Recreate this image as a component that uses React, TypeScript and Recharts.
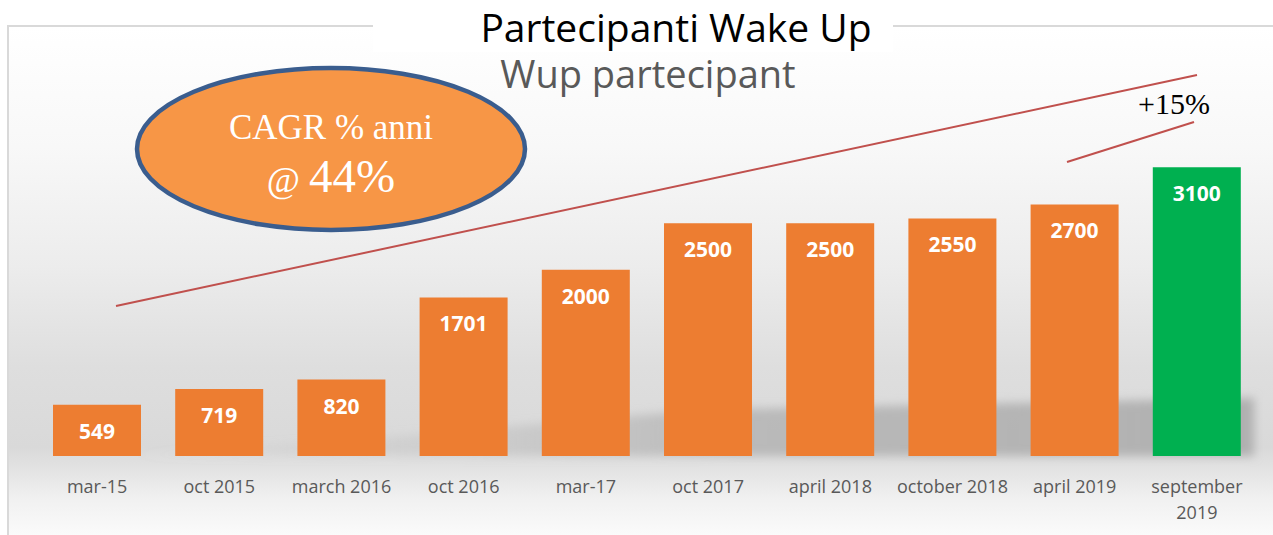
import { Bar, BarChart, Cell, LabelList, XAxis, YAxis } from "recharts";

// Wake Up participants per edition, bar chart with a CAGR callout on top.
const W = 1273;
const H = 535;

const categories = [
  "mar-15",
  "oct 2015",
  "march 2016",
  "oct 2016",
  "mar-17",
  "oct 2017",
  "april 2018",
  "october 2018",
  "april 2019",
  "september 2019",
];
const participants = [549, 719, 820, 1701, 2000, 2500, 2500, 2550, 2700, 3100];

const ORANGE = "#ED7D31";
const GREEN = "#00B050";
const SANS = "'Open Sans', 'Noto Sans', sans-serif";
const SERIF = "'Liberation Serif', 'DejaVu Serif', serif";

const data = categories.map((label, i) => ({ label, value: participants[i] }));

function XTick({ x, y, payload }: any) {
  const text: string = payload.value;
  const lines = text.length > 13 ? text.split(" ") : [text];
  return (
    <text x={x} y={y} textAnchor="middle" fill="#595959" fontSize={18} fontFamily={SANS}>
      {lines.map((l, i) => (
        <tspan key={i} x={x} dy={i === 0 ? 29 : 26}>
          {l}
        </tspan>
      ))}
    </text>
  );
}

export default function App() {
  return (
    <div style={{ position: "absolute", left: 0, top: 0, width: W, height: H, overflow: "hidden", background: "#fff" }}>
      {/* frame with the grey slide gradient */}
      <div
        style={{
          position: "absolute",
          left: 7,
          top: 25,
          width: W,
          height: H,
          borderLeft: "2px solid #d9d9d9",
          borderTop: "2px solid #d9d9d9",
          background:
            "linear-gradient(to bottom, #ffffff 0px, #f8f8f8 120px, #ececec 240px, #dedede 340px, #d9d9d9 420px, #e4e4e4 445px, #f0f0f0 470px, #fbfbfb 510px)",
        }}
      />
      {/* soft floor shadow behind the bars */}
      <svg width={W} height={H} style={{ position: "absolute", left: 0, top: 0 }}>
        <defs>
          <filter id="blur" x="-10%" y="-50%" width="120%" height="200%">
            <feGaussianBlur stdDeviation="5" />
          </filter>
          <linearGradient id="shadowFill" x1="0" y1="0" x2="1" y2="0">
            <stop offset="0" stopColor="#bcbcbc" stopOpacity="0" />
            <stop offset="0.3" stopColor="#b8b8b8" stopOpacity="0.35" />
            <stop offset="0.55" stopColor="#b4b4b4" stopOpacity="0.85" />
            <stop offset="1" stopColor="#b0b0b0" stopOpacity="1" />
          </linearGradient>
        </defs>
        <polygon points="120,456 1254,456 1254,398 700,410 350,440" fill="url(#shadowFill)" filter="url(#blur)" />
      </svg>

      <div style={{ position: "absolute", left: 0, top: 0 }}>
        <BarChart
          width={W}
          height={H}
          data={data}
          margin={{ top: 130, right: 15, bottom: 19, left: 36 }}
          barCategoryGap={17}
        >
          <XAxis
            dataKey="label"
            height={60}
            interval={0}
            tickLine={false}
            axisLine={false}
            tick={<XTick />}
          />
          <YAxis hide domain={[0, 3500]} />
          <Bar dataKey="value" isAnimationActive={false}>
            {data.map((d, i) => (
              <Cell key={d.label} fill={i === data.length - 1 ? GREEN : ORANGE} />
            ))}
            <LabelList
              dataKey="value"
              position="insideTop"
              offset={19}
              style={{ fill: "#fff", fontSize: 21, fontWeight: 700, fontFamily: SANS }}
            />
          </Bar>
        </BarChart>
      </div>

      {/* annotations: trend lines, CAGR ellipse, +15% */}
      <svg width={W} height={H} style={{ position: "absolute", left: 0, top: 0 }}>
        <line x1={116} y1={306} x2={1197} y2={75} stroke="#C0504D" strokeWidth={2} />
        <line x1={1067} y1={162} x2={1194} y2={122} stroke="#C0504D" strokeWidth={2} />
        <text x={1174} y={114} textAnchor="middle" fontSize={30} fontFamily={SERIF} fill="#000">
          +15%
        </text>
        <ellipse cx={331} cy={149} rx={194} ry={81} fill="#F79646" stroke="#3A5D8E" strokeWidth={4.5} />
        <text x={331} y={139} textAnchor="middle" fontSize={35} fontFamily={SERIF} fill="#fff">
          CAGR % anni
        </text>
        <text x={331} y={192} textAnchor="middle" fontFamily={SERIF} fill="#fff">
          <tspan fontSize={36}>@ </tspan>
          <tspan fontSize={47}>44%</tspan>
        </text>
        {/* subtitle and title */}
        <text x={648} y={88} textAnchor="middle" fontSize={38} fontFamily={SANS} fill="#595959">
          Wup partecipant
        </text>
        <rect x={373} y={0} width={520} height={52} fill="#fff" />
        <text x={676} y={42} textAnchor="middle" fontSize={39} fontFamily={SANS} fill="#000">
          Partecipanti Wake Up
        </text>
      </svg>
    </div>
  );
}
